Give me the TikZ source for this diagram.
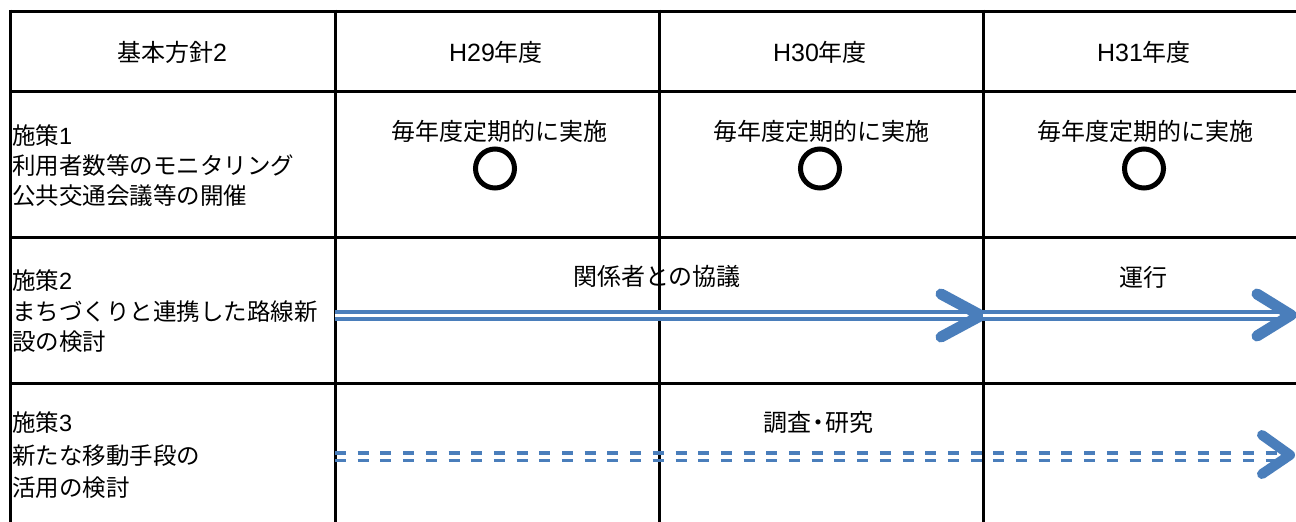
\documentclass[tikz,border=0pt]{standalone}
\usepackage{fontspec}
\setmainfont{Noto Sans CJK JP}
\newfontfamily\latinfont{Liberation Sans}
\definecolor{arrowblue}{HTML}{4A7EBB}
\begin{document}
\begin{tikzpicture}[x=1pt,y=-1pt,
  gridline/.style={line width=3pt, black},
  ctxt/.style={font=\fontsize{24}{30}\selectfont, inner sep=0pt, anchor=base},
  ltxt/.style={font=\fontsize{23.5}{30}\selectfont, inner sep=0pt, anchor=base west},
  ringmark/.style={draw=black, line width=5pt, circle, minimum size=39pt, inner sep=0pt},
  dbl/.style={draw=arrowblue, line width=4pt, double=white, double distance=3pt},
  dashline/.style={draw=arrowblue, line width=3.7pt, dash pattern=on 11pt off 11.7pt},
  chev/.style={draw=arrowblue, line width=11pt, line cap=round, line join=round}
]
\useasboundingbox (0,0) rectangle (1296,522);
\fill[white] (0,0) rectangle (1296,522);

% header texts
\node[ctxt] (h0) at (172,61) {基本方針{\latinfont\fontsize{25}{30}\selectfont 2}};
\node[ctxt] (h1) at (496,61) {{\latinfont\fontsize{25}{30}\selectfont H29}年度};
\node[ctxt] (h2) at (820,61) {{\latinfont\fontsize{25}{30}\selectfont H30}年度};
\node[ctxt] (h3) at (1144,61) {{\latinfont\fontsize{25}{30}\selectfont H31}年度};

% row 1
\node[ltxt] (r1a) at (12,144) {施策{\latinfont 1}};
\node[ltxt] (r1b) at (12,174) {利用者数等のモニタリング};
\node[ltxt] (r1c) at (12,204) {公共交通会議等の開催};
\node[ctxt] (t1) at (499,140) {毎年度定期的に実施};
\node[ctxt] (t2) at (821,140) {毎年度定期的に実施};
\node[ctxt] (t3) at (1145,140) {毎年度定期的に実施};
\node[ringmark] (c1) at (495,168.5) {};
\node[ringmark] (c2) at (820,168.5) {};
\node[ringmark] (c3) at (1144,168.5) {};

% row 2
\node[ltxt] (r2a) at (12,289.5) {施策{\latinfont 2}};
\node[ltxt] (r2b) at (12,320) {まちづくりと連携した路線新};
\node[ltxt] (r2c) at (12,350.5) {設の検討};
\node[ctxt] (l2) at (657,285) {関係者との協議};
\node[ctxt] (l3) at (1143,286.5) {運行};

% row 3
\node[ltxt] (r3a) at (12,431) {施策{\latinfont 3}};
\node[ltxt] (r3b) at (12,464) {新たな移動手段の};
\node[ltxt] (r3c) at (12,496) {活用の検討};
\node[ctxt] (l4) at (818,431) {調査\hspace{-5pt}・\hspace{-5pt}研究};

% table grid
\draw[gridline] (10,11) -- (1296,11);
\draw[gridline] (10,91) -- (1296,91);
\draw[gridline] (10,237.5) -- (1296,237.5);
\draw[gridline] (10,383.5) -- (1296,383.5);
\draw[gridline] (10,9.5) -- (10,522);
\draw[gridline] (335,9.5) -- (335,522);
\draw[gridline] (659,9.5) -- (659,522);
\draw[gridline] (983,9.5) -- (983,522);

% arrows row 2
\coordinate (a1s) at (335,315.5);
\coordinate (a1e) at (981,315.5);
\coordinate (a1u) at (941,294);
\coordinate (a1d) at (941,337);
\draw[dbl] (a1s) -- (a1e);
\draw[chev] (a1u) -- (a1e) -- (a1d);
\coordinate (a2s) at (983,315);
\coordinate (a2e) at (1291,315);
\coordinate (a2u) at (1257,294);
\coordinate (a2d) at (1257,336);
\draw[dbl] (a2s) -- (a2e);
\draw[chev] (a2u) -- (a2e) -- (a2d);

% dashed arrow row 3
\coordinate (a3e) at (1290,455);
\coordinate (a3u) at (1262,435);
\coordinate (a3d) at (1262,474);
\draw[dashline] (335,453) -- (1285,453);
\draw[dashline] (335,460.5) -- (1285,460.5);
\draw[chev, line width=10pt] (a3u) -- (a3e) -- (a3d);
\end{tikzpicture}
\end{document}
